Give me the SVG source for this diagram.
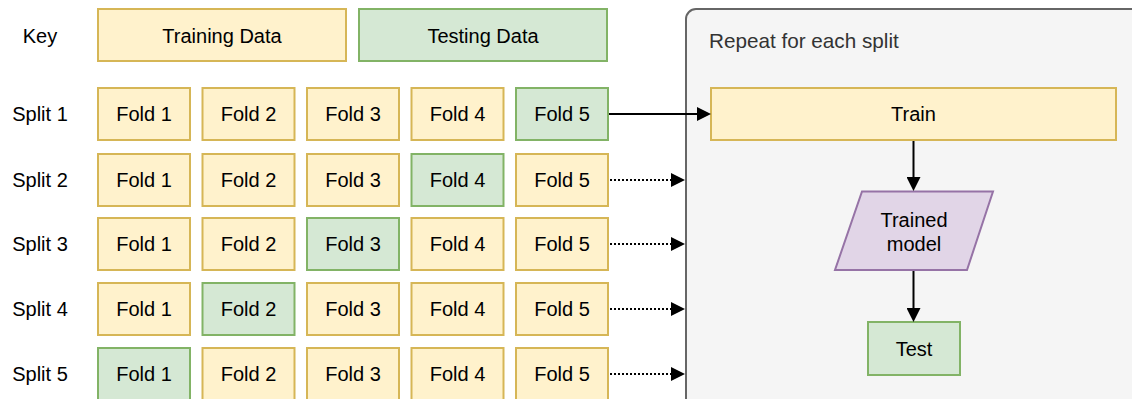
<svg xmlns="http://www.w3.org/2000/svg" width="1132" height="399" viewBox="0 0 1132 399">
  <defs>
    <style>
      text { font-family: "Liberation Sans", Arial, sans-serif; font-size: 20px; fill: #000; }
      .c { text-anchor: middle; }
      .train { fill: #fff2cc; stroke: #d6b656; stroke-width: 2; }
      .test { fill: #d5e8d4; stroke: #82b366; stroke-width: 2; }
      .model { fill: #e1d5e7; stroke: #9673a6; stroke-width: 2; }
      .loop { fill: #f5f5f5; stroke: #666666; stroke-width: 2; }
      .edge { fill: none; stroke: #000; stroke-width: 2; marker-end: url(#head); }
      .dotted { stroke-dasharray: 2 2; }
    </style>
    <marker id="head" markerUnits="userSpaceOnUse" markerWidth="14" markerHeight="14" refX="7" refY="7" orient="auto">
      <path d="M0,0 L14,7 L0,14 Z" fill="#000"/>
    </marker>
  </defs>

  <rect width="1132" height="399" fill="#ffffff"/>

  <!-- legend -->
  <g id="key">
    <text x="40" y="43" class="c">Key</text>
    <rect class="train" x="98" y="9" width="248" height="52"/>
    <text x="222" y="43" class="c">Training Data</text>
    <rect class="test" x="359" y="9" width="248" height="52"/>
    <text x="483" y="43" class="c">Testing Data</text>
  </g>

  <!-- per-split loop container -->
  <g id="loop">
    <rect class="loop" x="686" y="9" width="470" height="410" rx="10"/>
    <text x="709" y="48" style="fill:#333333; font-size:20.7px">Repeat for each split</text>
  </g>

  <!-- split rows: fold boxes, testing fold in green -->
  <g id="split1">
    <text x="40" y="121" class="c">Split 1</text>
    <rect class="train" x="98" y="88" width="92" height="52"/><text x="144" y="121" class="c">Fold 1</text>
    <rect class="train" x="202.5" y="88" width="92" height="52"/><text x="248.5" y="121" class="c">Fold 2</text>
    <rect class="train" x="307" y="88" width="92" height="52"/><text x="353" y="121" class="c">Fold 3</text>
    <rect class="train" x="411.5" y="88" width="92" height="52"/><text x="457.5" y="121" class="c">Fold 4</text>
    <rect class="test" x="516" y="88" width="92" height="52"/><text x="562" y="121" class="c">Fold 5</text>
  </g>
  <g id="split2">
    <text x="40" y="187" class="c">Split 2</text>
    <rect class="train" x="98" y="154" width="92" height="52"/><text x="144" y="187" class="c">Fold 1</text>
    <rect class="train" x="202.5" y="154" width="92" height="52"/><text x="248.5" y="187" class="c">Fold 2</text>
    <rect class="train" x="307" y="154" width="92" height="52"/><text x="353" y="187" class="c">Fold 3</text>
    <rect class="test" x="411.5" y="154" width="92" height="52"/><text x="457.5" y="187" class="c">Fold 4</text>
    <rect class="train" x="516" y="154" width="92" height="52"/><text x="562" y="187" class="c">Fold 5</text>
  </g>
  <g id="split3">
    <text x="40" y="251" class="c">Split 3</text>
    <rect class="train" x="98" y="218" width="92" height="52"/><text x="144" y="251" class="c">Fold 1</text>
    <rect class="train" x="202.5" y="218" width="92" height="52"/><text x="248.5" y="251" class="c">Fold 2</text>
    <rect class="test" x="307" y="218" width="92" height="52"/><text x="353" y="251" class="c">Fold 3</text>
    <rect class="train" x="411.5" y="218" width="92" height="52"/><text x="457.5" y="251" class="c">Fold 4</text>
    <rect class="train" x="516" y="218" width="92" height="52"/><text x="562" y="251" class="c">Fold 5</text>
  </g>
  <g id="split4">
    <text x="40" y="316" class="c">Split 4</text>
    <rect class="train" x="98" y="283" width="92" height="52"/><text x="144" y="316" class="c">Fold 1</text>
    <rect class="test" x="202.5" y="283" width="92" height="52"/><text x="248.5" y="316" class="c">Fold 2</text>
    <rect class="train" x="307" y="283" width="92" height="52"/><text x="353" y="316" class="c">Fold 3</text>
    <rect class="train" x="411.5" y="283" width="92" height="52"/><text x="457.5" y="316" class="c">Fold 4</text>
    <rect class="train" x="516" y="283" width="92" height="52"/><text x="562" y="316" class="c">Fold 5</text>
  </g>
  <g id="split5">
    <text x="40" y="381" class="c">Split 5</text>
    <rect class="test" x="98" y="348" width="92" height="52"/><text x="144" y="381" class="c">Fold 1</text>
    <rect class="train" x="202.5" y="348" width="92" height="52"/><text x="248.5" y="381" class="c">Fold 2</text>
    <rect class="train" x="307" y="348" width="92" height="52"/><text x="353" y="381" class="c">Fold 3</text>
    <rect class="train" x="411.5" y="348" width="92" height="52"/><text x="457.5" y="381" class="c">Fold 4</text>
    <rect class="train" x="516" y="348" width="92" height="52"/><text x="562" y="381" class="c">Fold 5</text>
  </g>

  <!-- steps inside the loop -->
  <g id="train">
    <rect class="train" x="711" y="88" width="405" height="52"/>
    <text x="913.5" y="121" class="c">Train</text>
  </g>
  <g id="trained-model">
    <polygon class="model" points="862,191.5 993,191.5 967,270 835,270"/>
    <text x="914" y="227" class="c">Trained</text>
    <text x="914" y="251" class="c">model</text>
  </g>
  <g id="test">
    <rect class="test" x="868" y="322" width="92" height="53"/>
    <text x="914" y="356" class="c">Test</text>
  </g>

  <!-- connectors -->
  <g id="connectors">
    <path class="edge" d="M609,114 H704"/>
    <path class="edge dotted" d="M610,180 H678"/>
    <path class="edge dotted" d="M610,244 H678"/>
    <path class="edge dotted" d="M610,309 H678"/>
    <path class="edge dotted" d="M610,374 H678"/>
    <path class="edge" d="M913.5,141 V184"/>
    <path class="edge" d="M913.5,271 V315"/>
  </g>
</svg>
